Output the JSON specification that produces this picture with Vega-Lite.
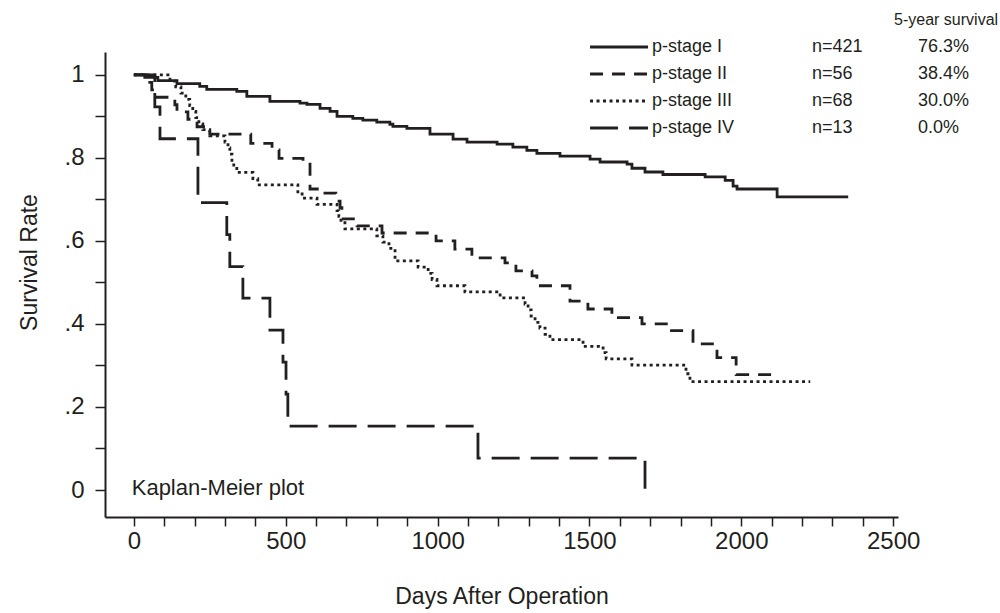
{
  "$schema": "https://vega.github.io/schema/vega-lite/v6.json",
  "autosize": "none",
  "width": 793,
  "height": 465,
  "padding": {"left": 105, "top": 52, "right": 102, "bottom": 96},
  "background": "white",
  "config": {
    "font": "Liberation Sans",
    "view": {"stroke": null},
    "axis": {
      "domainColor": "#231f20", "domainWidth": 2, "tickColor": "#231f20", "tickWidth": 1.5, "tickSize": 10,
      "labelColor": "#231f20", "titleColor": "#231f20", "labelFontSize": 24, "titleFontSize": 23,
      "titleFontWeight": "normal", "grid": false, "labelFlush": false, "labelOverlap": false
    }
  },
  "datasets": {
    "km": [
      {"stage": "p-stage I", "day": 0, "surv": 1.0},
      {"stage": "p-stage I", "day": 36, "surv": 0.994},
      {"stage": "p-stage I", "day": 79, "surv": 0.986},
      {"stage": "p-stage I", "day": 142, "surv": 0.979},
      {"stage": "p-stage I", "day": 217, "surv": 0.972},
      {"stage": "p-stage I", "day": 240, "surv": 0.965},
      {"stage": "p-stage I", "day": 339, "surv": 0.96},
      {"stage": "p-stage I", "day": 372, "surv": 0.948},
      {"stage": "p-stage I", "day": 448, "surv": 0.936},
      {"stage": "p-stage I", "day": 547, "surv": 0.932},
      {"stage": "p-stage I", "day": 570, "surv": 0.929},
      {"stage": "p-stage I", "day": 613, "surv": 0.919},
      {"stage": "p-stage I", "day": 646, "surv": 0.912},
      {"stage": "p-stage I", "day": 669, "surv": 0.9},
      {"stage": "p-stage I", "day": 721, "surv": 0.895},
      {"stage": "p-stage I", "day": 754, "surv": 0.891},
      {"stage": "p-stage I", "day": 800, "surv": 0.886},
      {"stage": "p-stage I", "day": 843, "surv": 0.881},
      {"stage": "p-stage I", "day": 853, "surv": 0.876},
      {"stage": "p-stage I", "day": 899, "surv": 0.871},
      {"stage": "p-stage I", "day": 975, "surv": 0.857},
      {"stage": "p-stage I", "day": 1051, "surv": 0.845},
      {"stage": "p-stage I", "day": 1097, "surv": 0.838},
      {"stage": "p-stage I", "day": 1196, "surv": 0.833},
      {"stage": "p-stage I", "day": 1248, "surv": 0.826},
      {"stage": "p-stage I", "day": 1294, "surv": 0.818},
      {"stage": "p-stage I", "day": 1327, "surv": 0.811},
      {"stage": "p-stage I", "day": 1403, "surv": 0.804},
      {"stage": "p-stage I", "day": 1502, "surv": 0.797},
      {"stage": "p-stage I", "day": 1535, "surv": 0.79},
      {"stage": "p-stage I", "day": 1624, "surv": 0.785},
      {"stage": "p-stage I", "day": 1640, "surv": 0.775},
      {"stage": "p-stage I", "day": 1683, "surv": 0.766},
      {"stage": "p-stage I", "day": 1742, "surv": 0.76},
      {"stage": "p-stage I", "day": 1881, "surv": 0.754},
      {"stage": "p-stage I", "day": 1947, "surv": 0.746},
      {"stage": "p-stage I", "day": 1973, "surv": 0.732},
      {"stage": "p-stage I", "day": 1986, "surv": 0.725},
      {"stage": "p-stage I", "day": 2118, "surv": 0.706},
      {"stage": "p-stage I", "day": 2352, "surv": 0.706},
      {"stage": "p-stage II", "day": 0, "surv": 1.0},
      {"stage": "p-stage II", "day": 46, "surv": 0.982},
      {"stage": "p-stage II", "day": 59, "surv": 0.964},
      {"stage": "p-stage II", "day": 72, "surv": 0.946},
      {"stage": "p-stage II", "day": 135, "surv": 0.928},
      {"stage": "p-stage II", "day": 142, "surv": 0.911},
      {"stage": "p-stage II", "day": 178, "surv": 0.893},
      {"stage": "p-stage II", "day": 208, "surv": 0.875},
      {"stage": "p-stage II", "day": 250, "surv": 0.857},
      {"stage": "p-stage II", "day": 385, "surv": 0.835},
      {"stage": "p-stage II", "day": 455, "surv": 0.819},
      {"stage": "p-stage II", "day": 478, "surv": 0.799},
      {"stage": "p-stage II", "day": 557, "surv": 0.785},
      {"stage": "p-stage II", "day": 580, "surv": 0.725},
      {"stage": "p-stage II", "day": 619, "surv": 0.715},
      {"stage": "p-stage II", "day": 665, "surv": 0.696},
      {"stage": "p-stage II", "day": 679, "surv": 0.68},
      {"stage": "p-stage II", "day": 685, "surv": 0.653},
      {"stage": "p-stage II", "day": 735, "surv": 0.636},
      {"stage": "p-stage II", "day": 817, "surv": 0.619},
      {"stage": "p-stage II", "day": 995, "surv": 0.6},
      {"stage": "p-stage II", "day": 1057, "surv": 0.58},
      {"stage": "p-stage II", "day": 1113, "surv": 0.559},
      {"stage": "p-stage II", "day": 1222, "surv": 0.547},
      {"stage": "p-stage II", "day": 1258, "surv": 0.528},
      {"stage": "p-stage II", "day": 1311, "surv": 0.516},
      {"stage": "p-stage II", "day": 1327, "surv": 0.492},
      {"stage": "p-stage II", "day": 1436, "surv": 0.455},
      {"stage": "p-stage II", "day": 1495, "surv": 0.436},
      {"stage": "p-stage II", "day": 1574, "surv": 0.415},
      {"stage": "p-stage II", "day": 1673, "surv": 0.4},
      {"stage": "p-stage II", "day": 1759, "surv": 0.384},
      {"stage": "p-stage II", "day": 1841, "surv": 0.352},
      {"stage": "p-stage II", "day": 1920, "surv": 0.319},
      {"stage": "p-stage II", "day": 1983, "surv": 0.278},
      {"stage": "p-stage II", "day": 2118, "surv": 0.278},
      {"stage": "p-stage III", "day": 0, "surv": 1.0},
      {"stage": "p-stage III", "day": 119, "surv": 0.985},
      {"stage": "p-stage III", "day": 138, "surv": 0.971},
      {"stage": "p-stage III", "day": 155, "surv": 0.956},
      {"stage": "p-stage III", "day": 171, "surv": 0.941},
      {"stage": "p-stage III", "day": 184, "surv": 0.926},
      {"stage": "p-stage III", "day": 194, "surv": 0.912},
      {"stage": "p-stage III", "day": 204, "surv": 0.897},
      {"stage": "p-stage III", "day": 214, "surv": 0.882},
      {"stage": "p-stage III", "day": 227, "surv": 0.868},
      {"stage": "p-stage III", "day": 250, "surv": 0.853},
      {"stage": "p-stage III", "day": 300, "surv": 0.838},
      {"stage": "p-stage III", "day": 310, "surv": 0.824},
      {"stage": "p-stage III", "day": 316, "surv": 0.809},
      {"stage": "p-stage III", "day": 323, "surv": 0.794},
      {"stage": "p-stage III", "day": 329, "surv": 0.779},
      {"stage": "p-stage III", "day": 339, "surv": 0.765},
      {"stage": "p-stage III", "day": 392, "surv": 0.75},
      {"stage": "p-stage III", "day": 408, "surv": 0.735},
      {"stage": "p-stage III", "day": 540, "surv": 0.718},
      {"stage": "p-stage III", "day": 554, "surv": 0.703},
      {"stage": "p-stage III", "day": 603, "surv": 0.688},
      {"stage": "p-stage III", "day": 669, "surv": 0.673},
      {"stage": "p-stage III", "day": 675, "surv": 0.659},
      {"stage": "p-stage III", "day": 682, "surv": 0.644},
      {"stage": "p-stage III", "day": 695, "surv": 0.629},
      {"stage": "p-stage III", "day": 800, "surv": 0.612},
      {"stage": "p-stage III", "day": 820, "surv": 0.597},
      {"stage": "p-stage III", "day": 840, "surv": 0.582},
      {"stage": "p-stage III", "day": 860, "surv": 0.552},
      {"stage": "p-stage III", "day": 936, "surv": 0.537},
      {"stage": "p-stage III", "day": 969, "surv": 0.522},
      {"stage": "p-stage III", "day": 982, "surv": 0.507},
      {"stage": "p-stage III", "day": 998, "surv": 0.492},
      {"stage": "p-stage III", "day": 1090, "surv": 0.477},
      {"stage": "p-stage III", "day": 1206, "surv": 0.463},
      {"stage": "p-stage III", "day": 1288, "surv": 0.448},
      {"stage": "p-stage III", "day": 1298, "surv": 0.434},
      {"stage": "p-stage III", "day": 1308, "surv": 0.419},
      {"stage": "p-stage III", "day": 1321, "surv": 0.404},
      {"stage": "p-stage III", "day": 1337, "surv": 0.39},
      {"stage": "p-stage III", "day": 1354, "surv": 0.375},
      {"stage": "p-stage III", "day": 1370, "surv": 0.362},
      {"stage": "p-stage III", "day": 1479, "surv": 0.346},
      {"stage": "p-stage III", "day": 1545, "surv": 0.331},
      {"stage": "p-stage III", "day": 1555, "surv": 0.316},
      {"stage": "p-stage III", "day": 1640, "surv": 0.301},
      {"stage": "p-stage III", "day": 1818, "surv": 0.28},
      {"stage": "p-stage III", "day": 1831, "surv": 0.261},
      {"stage": "p-stage III", "day": 2227, "surv": 0.261},
      {"stage": "p-stage IV", "day": 0, "surv": 1.0},
      {"stage": "p-stage IV", "day": 69, "surv": 0.923},
      {"stage": "p-stage IV", "day": 86, "surv": 0.846},
      {"stage": "p-stage IV", "day": 211, "surv": 0.692},
      {"stage": "p-stage IV", "day": 306, "surv": 0.615},
      {"stage": "p-stage IV", "day": 316, "surv": 0.538},
      {"stage": "p-stage IV", "day": 359, "surv": 0.462},
      {"stage": "p-stage IV", "day": 448, "surv": 0.385},
      {"stage": "p-stage IV", "day": 491, "surv": 0.308},
      {"stage": "p-stage IV", "day": 501, "surv": 0.231},
      {"stage": "p-stage IV", "day": 507, "surv": 0.154},
      {"stage": "p-stage IV", "day": 1133, "surv": 0.077},
      {"stage": "p-stage IV", "day": 1683, "surv": 0.0}
    ],
    "legend": [
      {"stage": "p-stage I", "n": "n=421", "surv5": "76.3%"},
      {"stage": "p-stage II", "n": "n=56", "surv5": "38.4%"},
      {"stage": "p-stage III", "n": "n=68", "surv5": "30.0%"},
      {"stage": "p-stage IV", "n": "n=13", "surv5": "0.0%"}
    ],
    "notes": [
      {"note": "Kaplan-Meier plot"}
    ],
    "header": [
      {"note": "5-year survival"}
    ]
  },
  "resolve": {"scale": {"y": "independent"}, "axis": {"y": "independent"}},
  "layer": [
    {
      "layer": [
        {
          "data": {"name": "km"},
          "mark": {"type": "line", "interpolate": "step-after", "strokeWidth": 2.8, "color": "#231f20", "clip": false},
          "encoding": {
            "x": {"field": "day", "type": "quantitative", "title": "Days After Operation",
              "scale": {"domain": [-95, 2516], "nice": false, "zero": false},
              "axis": {"values": [0,100,200,300,400,500,600,700,800,900,1000,1100,1200,1300,1400,1500,1600,1700,1800,1900,2000,2100,2200,2300,2400,2500],
                "format": "d", "labelExpr": "datum.value % 500 === 0 ? datum.label : ''", "tickSize": 9, "labelPadding": 3, "titlePadding": 32}},
            "y": {"field": "surv", "type": "quantitative", "title": "Survival Rate",
              "scale": {"domain": [-0.065, 1.055], "nice": false, "zero": false},
              "axis": {"values": [0,0.1,0.2,0.3,0.4,0.5,0.6,0.7,0.8,0.9,1],
                "labelExpr": "datum.value === 0 ? '0' : datum.value === 1 ? '1' : (round(datum.value * 10) % 2 === 0 ? replace(format(datum.value, '.1f'), '0.', '.') : '')",
                "labelPadding": 11, "titlePadding": 22, "titleY": 210}},
            "strokeDash": {"field": "stage", "type": "nominal",
              "scale": {"domain": ["p-stage I", "p-stage II", "p-stage III", "p-stage IV"], "range": [[1, 0], [13, 9], [3, 3.5], [28, 11]]},
              "legend": null}
          }
        },
        {
          "data": {"name": "notes"},
          "mark": {"type": "text", "align": "left", "baseline": "middle", "fontSize": 22, "color": "#231f20", "clip": false},
          "encoding": {
            "x": {"datum": -7, "type": "quantitative", "title": "Days After Operation", "scale": {"domain": [-95, 2516], "nice": false, "zero": false},
              "axis": {"values": [0,100,200,300,400,500,600,700,800,900,1000,1100,1200,1300,1400,1500,1600,1700,1800,1900,2000,2100,2200,2300,2400,2500],
                "format": "d", "labelExpr": "datum.value % 500 === 0 ? datum.label : ''", "tickSize": 9, "labelPadding": 3, "titlePadding": 32}},
            "y": {"datum": 0.006, "type": "quantitative", "title": "Survival Rate", "scale": {"domain": [-0.065, 1.055], "nice": false, "zero": false},
              "axis": {"values": [0,0.1,0.2,0.3,0.4,0.5,0.6,0.7,0.8,0.9,1],
                "labelExpr": "datum.value === 0 ? '0' : datum.value === 1 ? '1' : (round(datum.value * 10) % 2 === 0 ? replace(format(datum.value, '.1f'), '0.', '.') : '')",
                "labelPadding": 11, "titlePadding": 22, "titleY": 210}},
            "text": {"field": "note"}
          }
        },
        {
          "data": {"name": "header"},
          "mark": {"type": "text", "align": "left", "baseline": "middle", "fontSize": 16, "color": "#231f20", "clip": false},
          "encoding": {
            "x": {"datum": 2503, "type": "quantitative", "title": "Days After Operation", "scale": {"domain": [-95, 2516], "nice": false, "zero": false},
              "axis": {"values": [0,100,200,300,400,500,600,700,800,900,1000,1100,1200,1300,1400,1500,1600,1700,1800,1900,2000,2100,2200,2300,2400,2500],
                "format": "d", "labelExpr": "datum.value % 500 === 0 ? datum.label : ''", "tickSize": 9, "labelPadding": 3, "titlePadding": 32}},
            "y": {"datum": 1.131, "type": "quantitative", "title": "Survival Rate", "scale": {"domain": [-0.065, 1.055], "nice": false, "zero": false},
              "axis": {"values": [0,0.1,0.2,0.3,0.4,0.5,0.6,0.7,0.8,0.9,1],
                "labelExpr": "datum.value === 0 ? '0' : datum.value === 1 ? '1' : (round(datum.value * 10) % 2 === 0 ? replace(format(datum.value, '.1f'), '0.', '.') : '')",
                "labelPadding": 11, "titlePadding": 22, "titleY": 210}},
            "text": {"field": "note"}
          }
        }
      ]
    },
    {
      "data": {"name": "legend"},
      "encoding": {
        "y": {"field": "stage", "type": "nominal", "scale": {"type": "point", "domain": ["p-stage I", "p-stage II", "p-stage III", "p-stage IV"], "range": [-5, 76], "padding": 0}, "axis": null},
        "x": {"datum": 1502, "type": "quantitative", "title": "Days After Operation", "scale": {"domain": [-95, 2516], "nice": false, "zero": false},
          "axis": {"values": [0,100,200,300,400,500,600,700,800,900,1000,1100,1200,1300,1400,1500,1600,1700,1800,1900,2000,2100,2200,2300,2400,2500],
            "format": "d", "labelExpr": "datum.value % 500 === 0 ? datum.label : ''", "tickSize": 9, "labelPadding": 3, "titlePadding": 32}}
      },
      "layer": [
        {
          "mark": {"type": "rule", "strokeWidth": 2.8, "color": "#231f20", "clip": false},
          "encoding": {
            "x2": {"datum": 1693},
            "strokeDash": {"field": "stage", "type": "nominal", "legend": null}
          }
        },
        {
          "mark": {"type": "text", "align": "left", "baseline": "middle", "fontSize": 18, "color": "#231f20", "clip": false},
          "encoding": {
            "x": {"datum": 1706, "type": "quantitative"},
            "text": {"field": "stage"}
          }
        },
        {
          "mark": {"type": "text", "align": "left", "baseline": "middle", "fontSize": 18, "color": "#231f20", "clip": false},
          "encoding": {
            "x": {"datum": 2233, "type": "quantitative"},
            "text": {"field": "n"}
          }
        },
        {
          "mark": {"type": "text", "align": "left", "baseline": "middle", "fontSize": 18, "color": "#231f20", "clip": false},
          "encoding": {
            "x": {"datum": 2582, "type": "quantitative"},
            "text": {"field": "surv5"}
          }
        }
      ]
    }
  ]
}
